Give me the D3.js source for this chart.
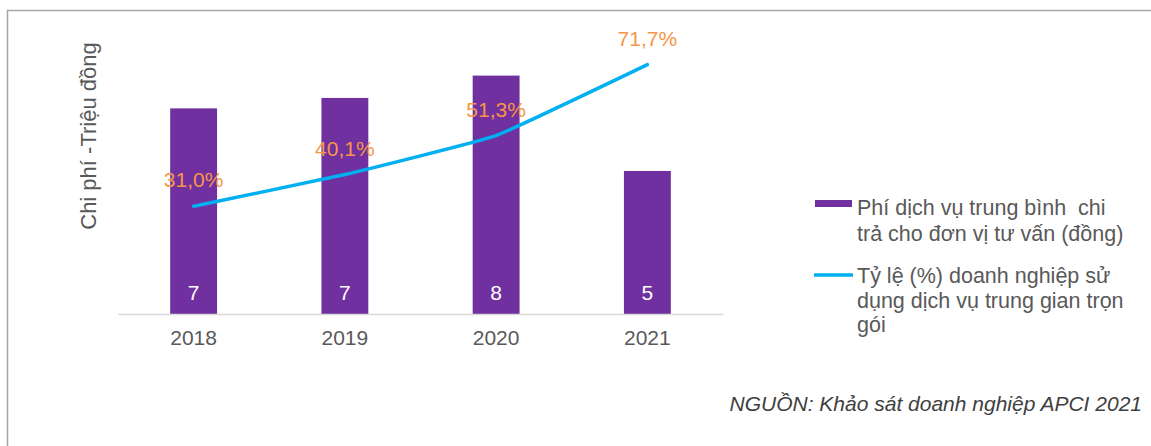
<!DOCTYPE html>
<html>
<head>
<meta charset="utf-8">
<script src="https://cdn.jsdelivr.net/npm/d3@7"></script>
<style>
  body { margin: 0; background: #fff; }
  svg { display: block; font-family: "Liberation Sans", Arial, sans-serif; }
  text { white-space: pre; }
</style>
</head>
<body>
<svg id="chart" width="1151" height="446"></svg>
<script>
var years = ['2018', '2019', '2020', '2021'];
var fees = [6.9, 7.25, 8.0, 4.8];           // bar values (triệu đồng)
var feeLabels = ['7', '7', '8', '5'];
var shares = [31.0, 40.1, 51.3, 71.7];      // line values (%)
var shareLabels = ['31,0%', '40,1%', '51,3%', '71,7%'];
var legendBar = ['Phí dịch vụ trung bình  chi', 'trả cho đơn vị tư vấn (đồng)'];
var legendLine = ['Tỷ lệ (%) doanh nghiệp sử', 'dụng dịch vụ trung gian trọn', 'gói'];

var svg = d3.select('#chart');

var x = d3.scaleBand().domain(years).range([118, 723]).paddingInner(0.69).paddingOuter(0.345);
var y = d3.scaleLinear().domain([0, 10]).range([314, 16]);
var y2 = d3.scaleLinear().domain([0, 85.7]).range([314, 16]);

// frame
svg.append('path')
  .attr('d', 'M7.5,446V10.5H1151')
  .attr('fill', 'none')
  .attr('stroke', '#a6a6a6')
  .attr('stroke-width', 1.5);

// y axis title
svg.append('text')
  .attr('transform', 'translate(96,136) rotate(-90)')
  .attr('text-anchor', 'middle')
  .attr('font-size', 22)
  .attr('fill', '#595959')
  .text('Chi phí -Triệu đồng');

// bars
svg.selectAll('rect.bar')
  .data(fees)
  .enter().append('rect')
  .attr('class', 'bar')
  .attr('x', function(d, i) { return x(years[i]); })
  .attr('y', function(d) { return y(d); })
  .attr('width', x.bandwidth())
  .attr('height', function(d) { return y(0) - y(d); })
  .attr('fill', '#7030a0');

// category axis
var xAxis = svg.append('g')
  .attr('transform', 'translate(0,' + y(0) + ')')
  .call(d3.axisBottom(x).tickSize(0).tickPadding(16));
xAxis.select('.domain').attr('stroke', '#d9d9d9').attr('stroke-width', 1.5);
xAxis.selectAll('text')
  .attr('font-size', 21)
  .attr('font-family', '"Liberation Sans", Arial, sans-serif')
  .attr('fill', '#595959');

// bar value labels
svg.selectAll('text.bar-label')
  .data(feeLabels)
  .enter().append('text')
  .attr('class', 'bar-label')
  .attr('x', function(d, i) { return x(years[i]) + x.bandwidth() / 2; })
  .attr('y', y(0) - 14)
  .attr('text-anchor', 'middle')
  .attr('font-size', 21)
  .attr('fill', '#ffffff')
  .text(function(d) { return d; });

// line (light smoothing)
var line = d3.line()
  .x(function(d, i) { return x(years[i]) + x.bandwidth() / 2; })
  .y(function(d) { return y2(d); })
  .curve(d3.curveCardinal.tension(0.7));

svg.append('path')
  .datum(shares)
  .attr('d', line)
  .attr('fill', 'none')
  .attr('stroke', '#00b0f0')
  .attr('stroke-width', 3.5)
  .attr('stroke-linecap', 'round');

// line value labels
svg.selectAll('text.share-label')
  .data(shareLabels)
  .enter().append('text')
  .attr('class', 'share-label')
  .attr('x', function(d, i) { return x(years[i]) + x.bandwidth() / 2; })
  .attr('y', function(d, i) { return y2(shares[i]) - 19; })
  .attr('text-anchor', 'middle')
  .attr('font-size', 21)
  .attr('fill', '#f79646')
  .text(function(d) { return d; });

// legend
var legend = svg.append('g').attr('font-size', 21.5).attr('fill', '#595959');

legend.append('rect')
  .attr('x', 815).attr('y', 200)
  .attr('width', 37).attr('height', 7)
  .attr('fill', '#7030a0');

legend.selectAll('text.lb')
  .data(legendBar)
  .enter().append('text')
  .attr('class', 'lb')
  .attr('x', 857)
  .attr('y', function(d, i) { return 215 + i * 26; })
  .text(function(d) { return d; });

legend.append('line')
  .attr('x1', 814).attr('x2', 853)
  .attr('y1', 275).attr('y2', 275)
  .attr('stroke', '#00b0f0')
  .attr('stroke-width', 3.5);

legend.selectAll('text.ll')
  .data(legendLine)
  .enter().append('text')
  .attr('class', 'll')
  .attr('x', 857)
  .attr('y', function(d, i) { return 283 + i * 24.5; })
  .text(function(d) { return d; });

// source
svg.append('text')
  .attr('x', 1142)
  .attr('y', 411)
  .attr('text-anchor', 'end')
  .attr('font-size', 21)
  .attr('font-style', 'italic')
  .attr('fill', '#404040')
  .text('NGUỒN: Khảo sát doanh nghiệp APCI 2021');
</script>
</body>
</html>
